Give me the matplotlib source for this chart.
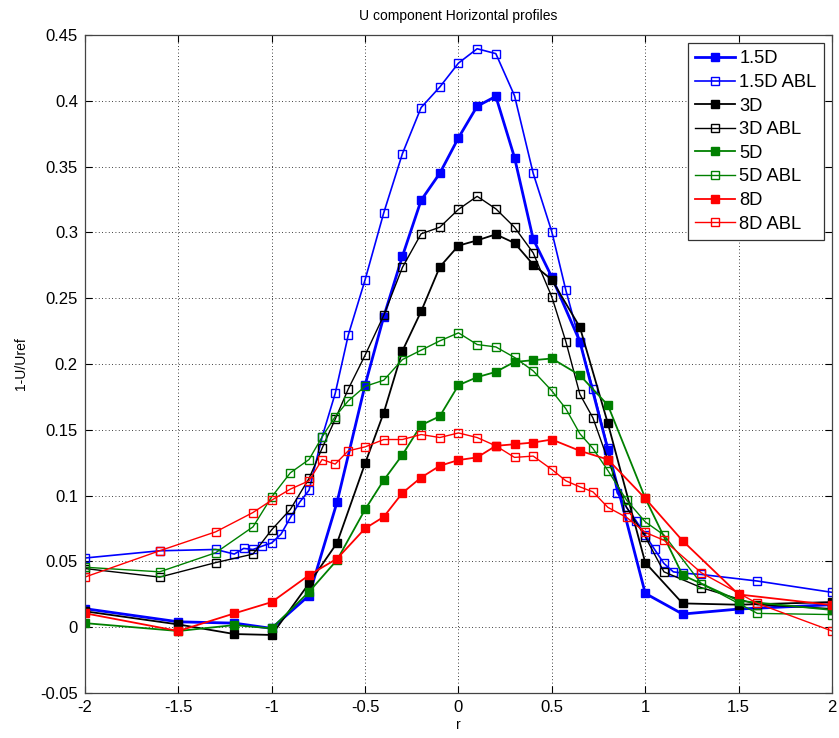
import matplotlib
matplotlib.use("Agg")
import matplotlib.pyplot as plt

plt.rcParams['font.family'] = ['Liberation Sans', 'DejaVu Sans']

# radial positions
r_main = [-2, -1.5, -1.2, -1, -0.8, -0.65, -0.5, -0.4, -0.3, -0.2, -0.1, 0,
          0.1, 0.2, 0.3, 0.4, 0.5, 0.65, 0.8, 1, 1.2, 1.5, 2]
r_abl = [-2, -1.6, -1.3, -1.1, -1.0, -0.9, -0.8, -0.73, -0.66, -0.59, -0.5,
         -0.4, -0.3, -0.2, -0.1, 0, 0.1, 0.2, 0.3, 0.4, 0.5, 0.575, 0.65,
         0.72, 0.8, 0.9, 1.0, 1.1, 1.3, 1.6, 2.0]
r_abl15 = [-2, -1.6, -1.3, -1.2, -1.15, -1.1, -1.05, -1.0, -0.95, -0.9, -0.85,
           -0.8, -0.73, -0.66, -0.59, -0.5, -0.4, -0.3, -0.2, -0.1, 0, 0.1,
           0.2, 0.3, 0.4, 0.5, 0.575, 0.65, 0.72, 0.8, 0.85, 0.9, 0.95, 1.0,
           1.05, 1.1, 1.15, 1.2, 1.3, 1.6, 2.0]

# velocity deficit 1-U/Uref
d15 = [0.014, 0.004, 0.003, -0.001, 0.024, 0.095, 0.184, 0.236, 0.282, 0.3245,
       0.345, 0.372, 0.396, 0.4035, 0.357, 0.295, 0.266, 0.217, 0.135, 0.0256,
       0.0099, 0.0137, 0.017]
d15_abl = [0.0525, 0.058, 0.059, 0.0555, 0.0598, 0.059, 0.0616, 0.064, 0.0707,
           0.0833, 0.095, 0.104, 0.1446, 0.1776, 0.222, 0.264, 0.315, 0.36,
           0.395, 0.4106, 0.4288, 0.4397, 0.436, 0.404, 0.345, 0.3004, 0.256,
           0.217, 0.181, 0.136, 0.102, 0.091, 0.081, 0.07, 0.059, 0.0484,
           0.042, 0.041, 0.040, 0.035, 0.0264]
d3 = [0.012, 0.002, -0.0053, -0.006, 0.0332, 0.064, 0.1244, 0.163, 0.21, 0.240,
      0.2738, 0.290, 0.294, 0.2986, 0.292, 0.2756, 0.264, 0.228, 0.1548, 0.049,
      0.018, 0.017, 0.019]
d3_abl = [0.0445, 0.038, 0.049, 0.0555, 0.074, 0.0895, 0.113, 0.136, 0.158,
          0.181, 0.2067, 0.237, 0.2735, 0.299, 0.304, 0.3176, 0.3275, 0.318,
          0.304, 0.2845, 0.251, 0.217, 0.177, 0.159, 0.127, 0.091, 0.0686,
          0.042, 0.03, 0.017, 0.014]
d5 = [0.003, -0.003, 0.0015, -0.001, 0.0268, 0.051, 0.0894, 0.1117, 0.131,
      0.1535, 0.1603, 0.1839, 0.190, 0.194, 0.2016, 0.2029, 0.2042, 0.1915,
      0.1687, 0.098, 0.0395, 0.02, 0.013]
d5_abl = [0.0455, 0.042, 0.0565, 0.0762, 0.099, 0.1173, 0.1274, 0.1446, 0.160,
          0.172, 0.183, 0.1877, 0.2034, 0.2105, 0.2176, 0.2237, 0.2148, 0.213,
          0.205, 0.1948, 0.1796, 0.166, 0.147, 0.1358, 0.119, 0.0965, 0.080,
          0.070, 0.033, 0.0104, 0.0095]
d8 = [0.0105, -0.003, 0.0104, 0.019, 0.0395, 0.052, 0.075, 0.0838, 0.102,
      0.1137, 0.1226, 0.127, 0.129, 0.1378, 0.139, 0.1403, 0.1426, 0.134,
      0.1274, 0.0978, 0.0656, 0.0248, 0.0167]
d8_abl = [0.038, 0.058, 0.0724, 0.0871, 0.0965, 0.1049, 0.1112, 0.1274, 0.1239,
          0.134, 0.137, 0.1426, 0.1426, 0.1464, 0.1441, 0.1476, 0.1441, 0.1378,
          0.129, 0.130, 0.1198, 0.1112, 0.1066, 0.1028, 0.091, 0.0834, 0.072,
          0.066, 0.0413, 0.018, -0.003]

labels = ['1.5D', '1.5D ABL', '3D', '3D ABL', '5D', '5D ABL', '8D', '8D ABL']
xticks = [-2, -1.5, -1, -0.5, 0, 0.5, 1, 1.5, 2]
yticks = [-0.05, 0, 0.05, 0.1, 0.15, 0.2, 0.25, 0.3, 0.35, 0.4, 0.45]
ytick_labels = ['-0.05', '0', '0.05', '0.1', '0.15', '0.2', '0.25', '0.3',
                '0.35', '0.4', '0.45']

fig = plt.figure(figsize=(8.39, 7.38), dpi=100)
ax = fig.add_axes([0.1012, 0.0612, 0.8905, 0.8911])

series = [
    (r_main, d15, 'blue', True, 2.0),
    (r_abl15, d15_abl, 'blue', False, 1.2),
    (r_main, d3, 'black', True, 1.3),
    (r_abl, d3_abl, 'black', False, 1.0),
    (r_main, d5, '#008000', True, 1.3),
    (r_abl, d5_abl, '#008000', False, 1.0),
    (r_main, d8, 'red', True, 1.3),
    (r_abl, d8_abl, 'red', False, 1.0),
]
for (x, y, c, filled, lw), lab in zip(series, labels):
    ax.plot(x, y, color=c, lw=lw, marker='s', ms=6.3,
            mfc=c if filled else 'none', mec=c, mew=1.0, label=lab)

ax.set_xlim(-2, 2)
ax.set_ylim(-0.05, 0.45)
ax.set_xticks(xticks)
ax.set_xticklabels([f'{t:g}' for t in xticks])
ax.set_yticks(yticks)
ax.set_yticklabels(ytick_labels)
ax.tick_params(direction='in', length=5, width=0.8, top=True, right=True,
               labelsize=12, colors='black', pad=5)
ax.grid(True, color='black', linestyle=(0, (1, 3)), linewidth=0.6)
for s in ax.spines.values():
    s.set_color('#444444')
    s.set_linewidth(0.9)

ax.set_title('U component Horizontal profiles', fontsize=10, pad=11)
ax.set_xlabel('r', fontsize=10, labelpad=2)
ax.set_ylabel('1-U/Uref', fontsize=10, labelpad=9)

leg = ax.legend(loc='upper right', fontsize=13.2, frameon=True, fancybox=False,
                edgecolor='#333333', framealpha=1, borderpad=0.38,
                labelspacing=0.36, handlelength=2.2, handletextpad=0.25,
                borderaxespad=0.45, markerscale=1.0)
leg.get_frame().set_linewidth(0.9)

fig.savefig('out.png', dpi=100)
